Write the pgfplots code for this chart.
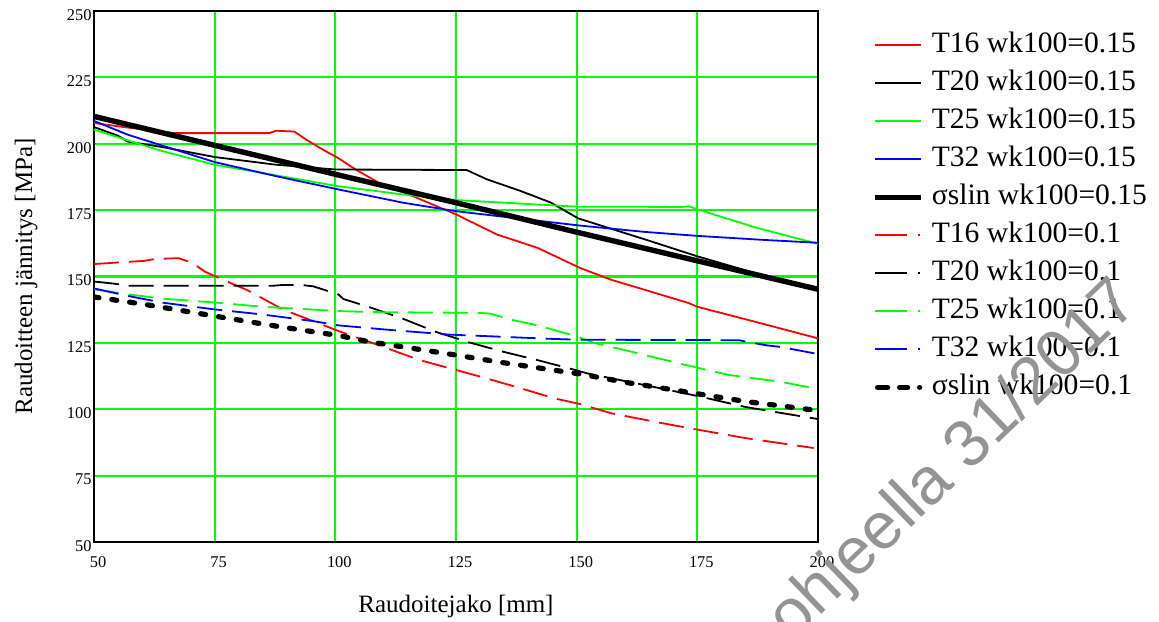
\documentclass[border=0pt]{standalone}
\usepackage{fontspec}
\setmainfont{Liberation Serif}
\newfontfamily\wmfont{Liberation Sans}
\usepackage{pgfplots}
\pgfplotsset{compat=1.18}
\definecolor{mred}{RGB}{255,0,0}
\definecolor{mgreen}{RGB}{0,255,0}
\definecolor{mblue}{RGB}{0,0,255}

\tikzset{
  thinsolid/.style={line width=0.9pt},
  thindash/.style={line width=0.9pt, dash pattern=on 12.5pt off 5pt},
  thicksolid/.style={line width=2.7pt},
  thickdot/.style={line width=2.6pt, line cap=round, dash pattern=on 2.5pt off 6.5pt},
}
% legend samples, colour given explicitly
\pgfplotsset{
  solidleg/.style={legend image code/.code={\draw[#1, line width=1.05pt] (0pt,0pt) -- (23pt,0pt);}},
  thickleg/.style={legend image code/.code={\draw[black, line width=2.7pt] (0pt,0pt) -- (23pt,0pt);}},
  dashleg/.style={legend image code/.code={\draw[#1, line width=1.05pt, dash pattern=on 16pt off 5.5pt on 0.8pt off 10pt] (0pt,0pt) -- (22.5pt,0pt);}},
  dotleg/.style={legend image code/.code={\draw[black, line width=2.6pt, line cap=round, dash pattern=on 5pt off 6pt on 4pt off 6pt on 0.01pt off 10pt] (1.25pt,0pt) -- (22.5pt,0pt);}},
}

\begin{document}
\begin{tikzpicture}
\begin{axis}[
  scale only axis, width=362pt, height=265.5pt,
  xmin=50, xmax=200, ymin=50, ymax=250,
  xtick={50,75,...,200}, ytick={50,75,...,250},
  grid=major, major grid style={mgreen, line width=1pt},
  major tick length=0pt,
  axis line style={line width=0.9pt},
  /pgf/number format/assume math mode=true,
  ticklabel style={font=\fontsize{8.2}{9}\selectfont},
  xticklabel style={xshift=2pt, yshift=-4pt},
  yticklabel style={inner sep=1pt, yshift=-2pt},
  xlabel={Raudoitejako [mm]},
  ylabel={Raudoitteen jännitys [MPa]},
  label style={font=\fontsize{12.5}{13}\selectfont},
  xlabel style={at={(axis description cs:0.5,-0.1337)}, anchor=base},
  ylabel style={at={(axis description cs:-0.0856,0.5)}, anchor=base},
  legend style={draw=none, fill=none, at={(1,1)}, anchor=north west,
    xshift=27pt, yshift=-10.5pt, inner sep=0pt,
    font=\fontsize{14.8}{14.8}\selectfont, row sep=6pt, column sep=4pt,
    nodes={inner sep=0pt, text height=10pt, text depth=3pt}},
  legend cell align=left,
]
% wk100 = 0.15
\addplot[mred, thinsolid, solidleg=mred] coordinates {(50,207.8) (57,206.1) (63,204.8) (66.8,204) (86.3,204) (87.7,204.9) (91.5,204.6) (94,201.5) (97.5,197.7) (100.6,194.6) (104.2,190.3) (109,185.3) (116,180.3) (125,173.4) (133.5,165.8) (141.9,160.8) (150.6,153.3) (157.1,148.8) (165,144.5) (173.2,140) (175,138.6) (187.5,132.7) (200,126.7)};
\addlegendentry{T16 wk100=0.15}
\addplot[black, thinsolid, solidleg=black] coordinates {(50,206.3) (55,203) (57,200.8) (64,198.8) (75,195) (87.7,192.1) (91.9,191.5) (100,190.3) (127.2,190.1) (131.4,186.6) (138.4,182.2) (144.7,177.8) (150.3,171.9) (164.1,164) (175,157.6) (187.5,151) (200,145.5)};
\addlegendentry{T20 wk100=0.15}
\addplot[mgreen, thinsolid, solidleg=mgreen] coordinates {(50,205.3) (58.4,200.5) (64,197.3) (75,192.1) (87.7,188.1) (100.6,184) (114,180.9) (125,178.8) (134.9,177.8) (150.1,176.3) (172,176.2) (173.2,176.5) (175,175.3) (187.2,168.4) (200,162.3)};
\addlegendentry{T25 wk100=0.15}
\addplot[mblue, thinsolid, solidleg=mblue] coordinates {(50,208.6) (57,203.4) (75,193.1) (87.7,187.8) (100.6,182.8) (114,177.8) (125,174.6) (134.9,172.5) (150.6,169.2) (164.1,166.8) (175,165.3) (188.6,163.8) (200,162.7)};
\addlegendentry{T32 wk100=0.15}
\addplot[black, thicksolid, thickleg] coordinates {(50,210.3) (75,199.4) (100,188.5) (125,177.8) (150,166.7) (175,155.9) (200,145.2)};
\addlegendentry{σslin wk100=0.15}
% wk100 = 0.1
\addplot[mred, thindash, dashleg=mred] coordinates {(50,154.7) (60.5,155.9) (62.6,156.6) (67.5,156.9) (70.2,155.3) (73,151.8) (77.2,148.4) (82.1,144.6) (89.1,137.6) (95.4,133.2) (100.6,129.5) (107,125.4) (117.5,118.5) (125,114.8) (131.4,111.6) (138.4,107.9) (145.4,104.1) (150.6,102) (157.1,98.5) (167.6,94.8) (175.1,92.3) (185.1,89.1) (199.1,85.4)};
\addlegendentry{T16 wk100=0.1}
\addplot[black, thindash, dashleg=black] coordinates {(50,148.1) (54.2,147.3) (57,146.5) (87,146.5) (89,146.8) (93,146.8) (95.4,146.3) (100.6,143.3) (101.7,141.5) (107,138.5) (114,134.1) (120.9,129.1) (127.9,125.1) (134.9,121.6) (141.9,118.5) (150.3,114.5) (152.2,113.5) (164.1,109.1) (175,105) (185.1,100.8) (200,96.3)};
\addlegendentry{T20 wk100=0.1}
\addplot[mgreen, thindash, dashleg=mgreen] coordinates {(50,145.2) (57,143.3) (64,141.7) (75,140.2) (84.9,138.6) (100.6,137) (107,136.6) (130,136.3) (132.1,136) (137,133.5) (141.9,131.6) (150.3,127.3) (153.6,125) (160.6,122) (171.1,117.3) (181.6,112.9) (192.1,110.4) (200,107.6)};
\addlegendentry{T25 wk100=0.1}
\addplot[mblue, thindash, dashleg=mblue] coordinates {(50,145.5) (57,142.7) (64,140.2) (75,137.6) (84.9,135.7) (95.4,133.2) (100.6,131.6) (110.5,130) (120.9,128.5) (123.7,128.1) (130.5,127.6) (137,127.1) (145,126.5) (150,126.2) (183.7,126) (185.1,125.4) (189.3,124.1) (192.1,123.5) (200,120.8)};
\addlegendentry{T32 wk100=0.1}
\addplot[black, thickdot, dotleg] coordinates {(50,142.3) (60.5,139.5) (75,135.1) (88.4,131.1) (100.6,127.8) (107,125.4) (114,123.5) (125,120.4) (134.9,117.5) (150.6,113.3) (160.6,110) (171.1,107) (175.1,105.8) (185.1,102.9) (200,99.5)};
\addlegendentry{σslin wk100=0.1}
\coordinate (sw) at (rel axis cs:0,0);
\end{axis}
\node[font=\wmfont\fontsize{33}{33}\selectfont, text=black!42, rotate=44, anchor=base east, inner sep=0pt] at ([shift={(523.5pt,118pt)}]sw) {ohjeella 31/2017};
\pgfresetboundingbox
\path[use as bounding box] ([shift={(-47pt,-39.5pt)}]sw) rectangle ([shift={(532.5pt,271pt)}]sw);
\end{tikzpicture}
\end{document}
